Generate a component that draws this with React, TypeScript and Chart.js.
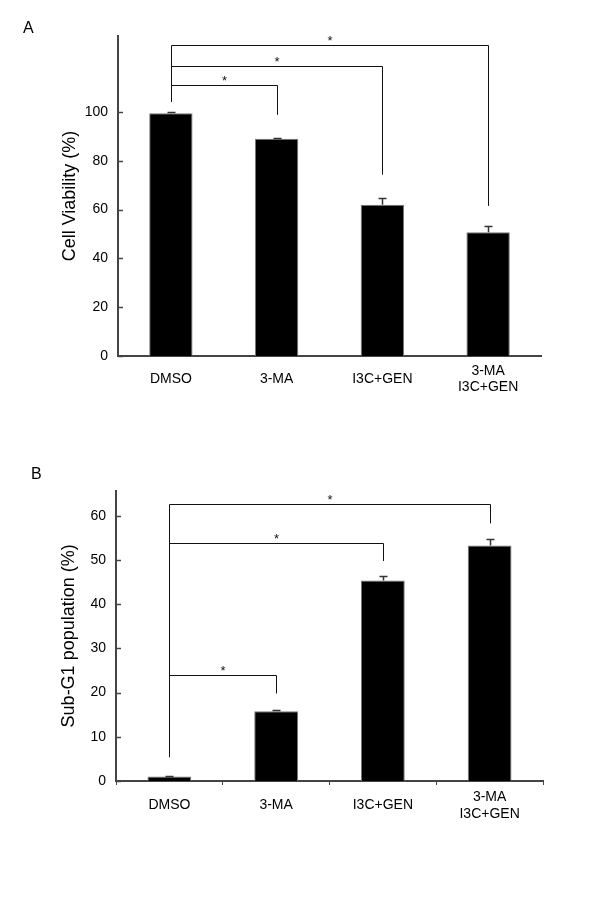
import React, { useEffect, useRef } from 'react';
import { Chart, registerables } from 'chart.js';

Chart.register(...registerables);

const FONT = '"Liberation Sans", Arial, Helvetica, sans-serif';

// ---------- data ----------
const categories = [['DMSO'], ['3-MA'], ['I3C+GEN'], ['3-MA', 'I3C+GEN']];

const viability = [99.5, 89.0, 62.0, 50.7];
const viabilityErr = [0.3, 0.4, 2.8, 2.7];
const viabilityTicks = [0, 20, 40, 60, 80, 100];
const viabilityBracketTo = [1, 2, 3];
const viabilityBracketLevel = [111.2, 119.0, 127.3];
const viabilityBracketRightEnd = [98.8, 74.3, 61.5];
const viabilityBracketLeftEnd = 104.2;

const subG1 = [1.0, 15.8, 45.4, 53.3];
const subG1Err = [0.2, 0.3, 0.9, 1.5];
const subG1Ticks = [0, 10, 20, 30, 40, 50, 60];
const subG1BracketTo = [1, 2, 3];
const subG1BracketLevel = [24.0, 53.8, 62.7];
const subG1BracketRightEnd = [19.8, 49.8, 58.3];
const subG1BracketLeftEnd = 5.4;

// ---------- panel configs ----------
const panelA = {
  letter: 'A', letterX: 23, letterY: 29,
  title: 'Cell Viability (%)',
  values: viability, errors: viabilityErr, ticks: viabilityTicks, max: 131.1,
  bracketTo: viabilityBracketTo, bracketLevel: viabilityBracketLevel,
  bracketRightEnd: viabilityBracketRightEnd, bracketLeftEnd: viabilityBracketLeftEnd,
  padTop: 36, padRight: 59, xHeight: 99, yWidth: 118, titlePad: 59.2, xPad: 11, lineHeight: 1.14,
  xTickColor: 'rgba(0,0,0,0)', top: 0,
};

const panelB = {
  letter: 'B', letterX: 31, letterY: 20,
  title: 'Sub-G1 population (%)',
  values: subG1, errors: subG1Err, ticks: subG1Ticks, max: 65.7,
  bracketTo: subG1BracketTo, bracketLevel: subG1BracketLevel,
  bracketRightEnd: subG1BracketRightEnd, bracketLeftEnd: subG1BracketLeftEnd,
  padTop: 35.7, padRight: 57, xHeight: 129, yWidth: 116, titlePad: 58.7, xPad: 12, lineHeight: 1.22,
  xTickColor: '#444', top: 455,
};

function makeAnnotPlugin(cfg: any) {
  return {
    id: 'annot' + cfg.letter,
    afterDatasetsDraw(chart: any) {
      const { ctx } = chart;
      const xs = chart.scales.x;
      const ys = chart.scales.y;
      ctx.save();

      // error bars (upper only)
      ctx.strokeStyle = '#333';
      ctx.lineWidth = 1.5;
      cfg.values.forEach((v: number, i: number) => {
        const px = Math.round(xs.getPixelForValue(i)) + 0.5;
        const y0 = ys.getPixelForValue(v);
        const y1 = Math.round(ys.getPixelForValue(v + cfg.errors[i])) + 0.5;
        ctx.beginPath();
        ctx.moveTo(px, y0);
        ctx.lineTo(px, y1);
        ctx.moveTo(px - 4, y1);
        ctx.lineTo(px + 4, y1);
        ctx.stroke();
      });

      // inward y-axis tick marks
      ctx.strokeStyle = '#444';
      ctx.lineWidth = 1.5;
      const ax = chart.chartArea.left;
      cfg.ticks.forEach((t: number) => {
        const py = Math.round(ys.getPixelForValue(t)) + 0.5;
        ctx.beginPath();
        ctx.moveTo(ax, py);
        ctx.lineTo(ax + 5, py);
        ctx.stroke();
      });

      // significance brackets
      ctx.strokeStyle = '#111';
      ctx.lineWidth = 1;
      ctx.fillStyle = '#111';
      ctx.font = '13px ' + FONT;
      ctx.textAlign = 'center';
      ctx.textBaseline = 'alphabetic';
      const xl = Math.round(xs.getPixelForValue(0)) + 0.5;
      cfg.bracketTo.forEach((to: number, k: number) => {
        const xr = Math.round(xs.getPixelForValue(to)) + 0.5;
        const yl = Math.round(ys.getPixelForValue(cfg.bracketLevel[k])) + 0.5;
        ctx.beginPath();
        ctx.moveTo(xl, ys.getPixelForValue(cfg.bracketLeftEnd));
        ctx.lineTo(xl, yl);
        ctx.lineTo(xr, yl);
        ctx.lineTo(xr, ys.getPixelForValue(cfg.bracketRightEnd[k]));
        ctx.stroke();
        ctx.fillText('*', (xl + xr) / 2, yl - 1);
      });

      // panel letter
      ctx.fillStyle = '#000';
      ctx.font = '16px ' + FONT;
      ctx.textAlign = 'left';
      ctx.textBaseline = 'middle';
      ctx.fillText(cfg.letter, cfg.letterX, cfg.letterY);

      ctx.restore();
    },
  };
}

function Panel({ cfg }: { cfg: any }) {
  const ref = useRef<HTMLCanvasElement | null>(null);
  useEffect(() => {
    if (!ref.current) return;
    const chart = new Chart(ref.current, {
      type: 'bar',
      data: {
        labels: categories as any,
        datasets: [
          {
            data: cfg.values,
            backgroundColor: '#000',
            borderColor: '#777',
            borderWidth: 1,
            barPercentage: 0.41,
            categoryPercentage: 1,
          },
        ],
      },
      options: {
        responsive: false,
        animation: false,
        devicePixelRatio: 1,
        layout: { padding: { left: 0, right: cfg.padRight, top: cfg.padTop, bottom: 0 } },
        plugins: { legend: { display: false }, tooltip: { enabled: false } },
        scales: {
          x: {
            grid: {
              display: true,
              drawOnChartArea: false,
              drawTicks: true,
              tickLength: 4,
              offset: true,
              color: cfg.xTickColor,
              lineWidth: 1,
            },
            border: { display: true, color: '#444', width: 2 },
            ticks: {
              color: '#000',
              font: { family: FONT, size: 14, lineHeight: cfg.lineHeight },
              padding: cfg.xPad,
              maxRotation: 0,
              minRotation: 0,
              autoSkip: false,
              crossAlign: 'center',
            },
            afterFit: (s: any) => {
              s.height = cfg.xHeight;
            },
          },
          y: {
            min: 0,
            max: cfg.max,
            afterBuildTicks: (s: any) => {
              s.ticks = cfg.ticks.map((v: number) => ({ value: v }));
            },
            grid: { display: false, drawTicks: false },
            border: { display: true, color: '#444', width: 2 },
            ticks: { color: '#000', font: { family: FONT, size: 14 }, padding: 10 },
            title: {
              display: true,
              text: cfg.title,
              color: '#000',
              font: { family: FONT, size: 18 },
              padding: { top: cfg.titlePad, bottom: 0 },
            },
            afterFit: (s: any) => {
              s.width = cfg.yWidth;
            },
          },
        },
      } as any,
      plugins: [makeAnnotPlugin(cfg)],
    });
    return () => chart.destroy();
  }, []);
  return (
    <canvas
      ref={ref}
      width={600}
      height={455}
      style={{ position: 'absolute', left: 0, top: cfg.top, width: 600, height: 455 }}
    />
  );
}

export default function App() {
  return (
    <div style={{ position: 'absolute', left: 0, top: 0, width: 600, height: 910, background: '#fff' }}>
      <Panel cfg={panelA} />
      <Panel cfg={panelB} />
    </div>
  );
}
